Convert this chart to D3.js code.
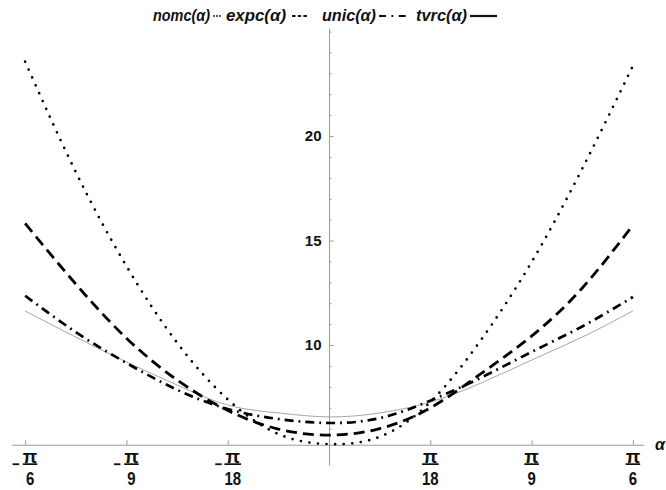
<!DOCTYPE html>
<html><head><meta charset="utf-8">
<script src="https://cdn.jsdelivr.net/npm/d3@7"></script>
<style>
html,body{margin:0;padding:0;background:#fff;}
svg{display:block;font-family:"Liberation Sans",Arial,sans-serif;}
</style></head>
<body><svg id="c" width="666" height="490"></svg>
<script>
// alpha sample points in multiples of pi/36
const alphaSteps = [-6,-5,-4,-3,-2,-1,0,1,2,3,4,5,6];
const nomc = [23.56,18.28,13.78,10.11,7.40,5.74,5.26,5.61,7.27,10.24,13.97,18.44,23.36];
const expc = [15.82,12.92,10.33,8.33,6.87,5.98,5.69,6.00,6.99,8.63,10.43,12.73,15.74];
const unic = [12.36,10.62,9.14,7.86,6.94,6.46,6.27,6.50,7.34,8.44,9.67,10.89,12.30];
const tvrc = [11.63,10.38,9.19,8.09,7.13,6.75,6.56,6.75,7.27,8.18,9.28,10.38,11.63];
const seriesNames = ["nomc","expc","unic","tvrc"];
const xTickSteps = [-3,-2,-1,1,2,3];   // multiples of pi/18
const xTickDen = ["6","9","18","18","9","6"];
const yMajor = [10,15,20];
const yMinor = [6,7,8,9,11,12,13,14,16,17,18,19,21,22,23,24,25];
const yOrigin = 5.23;

const svg = d3.select("#c");
const x = d3.scaleLinear().domain([-0.5467,0.5427]).range([11.7,644]);
const y = d3.scaleLinear().domain([4.26,25.17]).range([465,28]);
const axisColor = "#9a9a9a";
const ink = "#111";

// X axis
const xg = svg.append("g").attr("transform",`translate(0,${y(yOrigin)})`)
  .call(d3.axisBottom(x).tickValues(xTickSteps.map(k=>k*Math.PI/18))
     .tickSizeInner(-4.5).tickSizeOuter(0).tickFormat(""));
xg.select(".domain").attr("stroke",axisColor);
xg.selectAll(".tick line").attr("stroke",axisColor);

// Y axis
const yg = svg.append("g").attr("transform",`translate(${x(0)},0)`)
  .call(d3.axisLeft(y).tickValues(yMajor).tickSizeInner(-4.5).tickSizeOuter(0).tickPadding(7.5));
yg.select(".domain").attr("stroke",axisColor);
yg.selectAll(".tick line").attr("stroke",axisColor);
yg.selectAll(".tick text").attr("font-size",15).attr("font-weight","bold")
  .attr("font-family","'Liberation Sans',Arial,sans-serif").attr("fill",ink);
const ygm = svg.append("g").attr("transform",`translate(${x(0)},0)`)
  .call(d3.axisLeft(y).tickValues(yMinor).tickSizeInner(-2.5).tickSizeOuter(0).tickFormat(""));
ygm.select(".domain").remove();
ygm.selectAll(".tick line").attr("stroke",axisColor);

// X tick labels as fractions
const y0 = y(yOrigin);
xTickSteps.forEach((k,i)=>{
  const tx = x(k*Math.PI/18);
  const neg = k<0;
  const fx = neg ? tx+5 : tx;
  const g = svg.append("g").attr("transform",`translate(${fx},${y0})`);
  const pi = g.append("text").attr("x",0).attr("y",17.8).attr("text-anchor","middle")
    .attr("font-size",19).attr("font-weight","bold").attr("fill",ink).text("π");
  const gs = g.append("g").attr("transform","scale(0.83,1)");
  const den = gs.append("text").attr("x",0).attr("y",40).attr("text-anchor","middle")
    .attr("font-size",18).attr("font-weight","bold").attr("fill",ink).text(xTickDen[i]);
  const w = Math.max(den.node().getComputedTextLength()*0.83, pi.node().getComputedTextLength());
  g.append("line").attr("x1",-w/2).attr("x2",w/2).attr("y1",19.4).attr("y2",19.4)
    .attr("stroke",ink).attr("stroke-width",1.7);
  if(neg){
    svg.append("line").attr("x1",tx-12.5).attr("x2",tx-6).attr("y1",y0+19.5).attr("y2",y0+19.5)
      .attr("stroke",ink).attr("stroke-width",1.8);
  }
});
svg.append("text").attr("x",655).attr("y",y0+5.5).attr("font-size",16)
  .attr("font-weight","bold").attr("font-style","italic").attr("fill",ink).text("α");

// curves
const styles = {
  nomc:{w:2.7,dash:"0,8.6",cap:"round",col:"#000"},
  expc:{w:2.8,dash:"11,6",cap:"butt",col:"#000"},
  unic:{w:2.7,dash:"9,5,1.8,5",cap:"butt",col:"#000"},
  tvrc:{w:0.8,dash:null,cap:"butt",col:"#8f8f8f"}
};
const dataMap = {nomc,expc,unic,tvrc};
const line = d3.line().x(d=>x(d[0]*Math.PI/36)).y(d=>y(d[1])).curve(d3.curveNatural);
["tvrc","unic","expc","nomc"].forEach(n=>{
  const s = styles[n];
  svg.append("path").datum(alphaSteps.map((a,i)=>[a,dataMap[n][i]]))
    .attr("d",line).attr("fill","none").attr("stroke",s.col).attr("stroke-width",s.w)
    .attr("stroke-linecap",s.cap).attr("stroke-dasharray",s.dash);
});

// legend
const lg = svg.append("g").attr("font-size",16).attr("font-weight","bold")
  .attr("font-style","italic").attr("fill",ink);
const items = [
  {x:153,tl:57,sx:214,sw:7,dash:"0,3",cap:"round",sy:16,w:1.8},
  {x:226,tl:60,sx:292,sw:15,dash:"3.5,2.2",cap:"butt",sy:16,w:2},
  {x:322,tl:54,sx:379,sw:27,dash:"7,5.5,1.7,5.5",cap:"butt",sy:16,w:2.2},
  {x:416,tl:51,sx:470,sw:27,dash:null,cap:"butt",sy:16,w:2.2}
];
items.forEach((it,i)=>{
  lg.append("text").attr("x",it.x).attr("y",21).attr("textLength",it.tl)
    .attr("lengthAdjust","spacingAndGlyphs").text(seriesNames[i]+"(α)");
  svg.append("line").attr("x1",it.sx).attr("x2",it.sx+it.sw).attr("y1",it.sy).attr("y2",it.sy)
    .attr("stroke",ink).attr("stroke-width",it.w).attr("stroke-linecap",it.cap)
    .attr("stroke-dasharray",it.dash);
});
</script></body></html>
